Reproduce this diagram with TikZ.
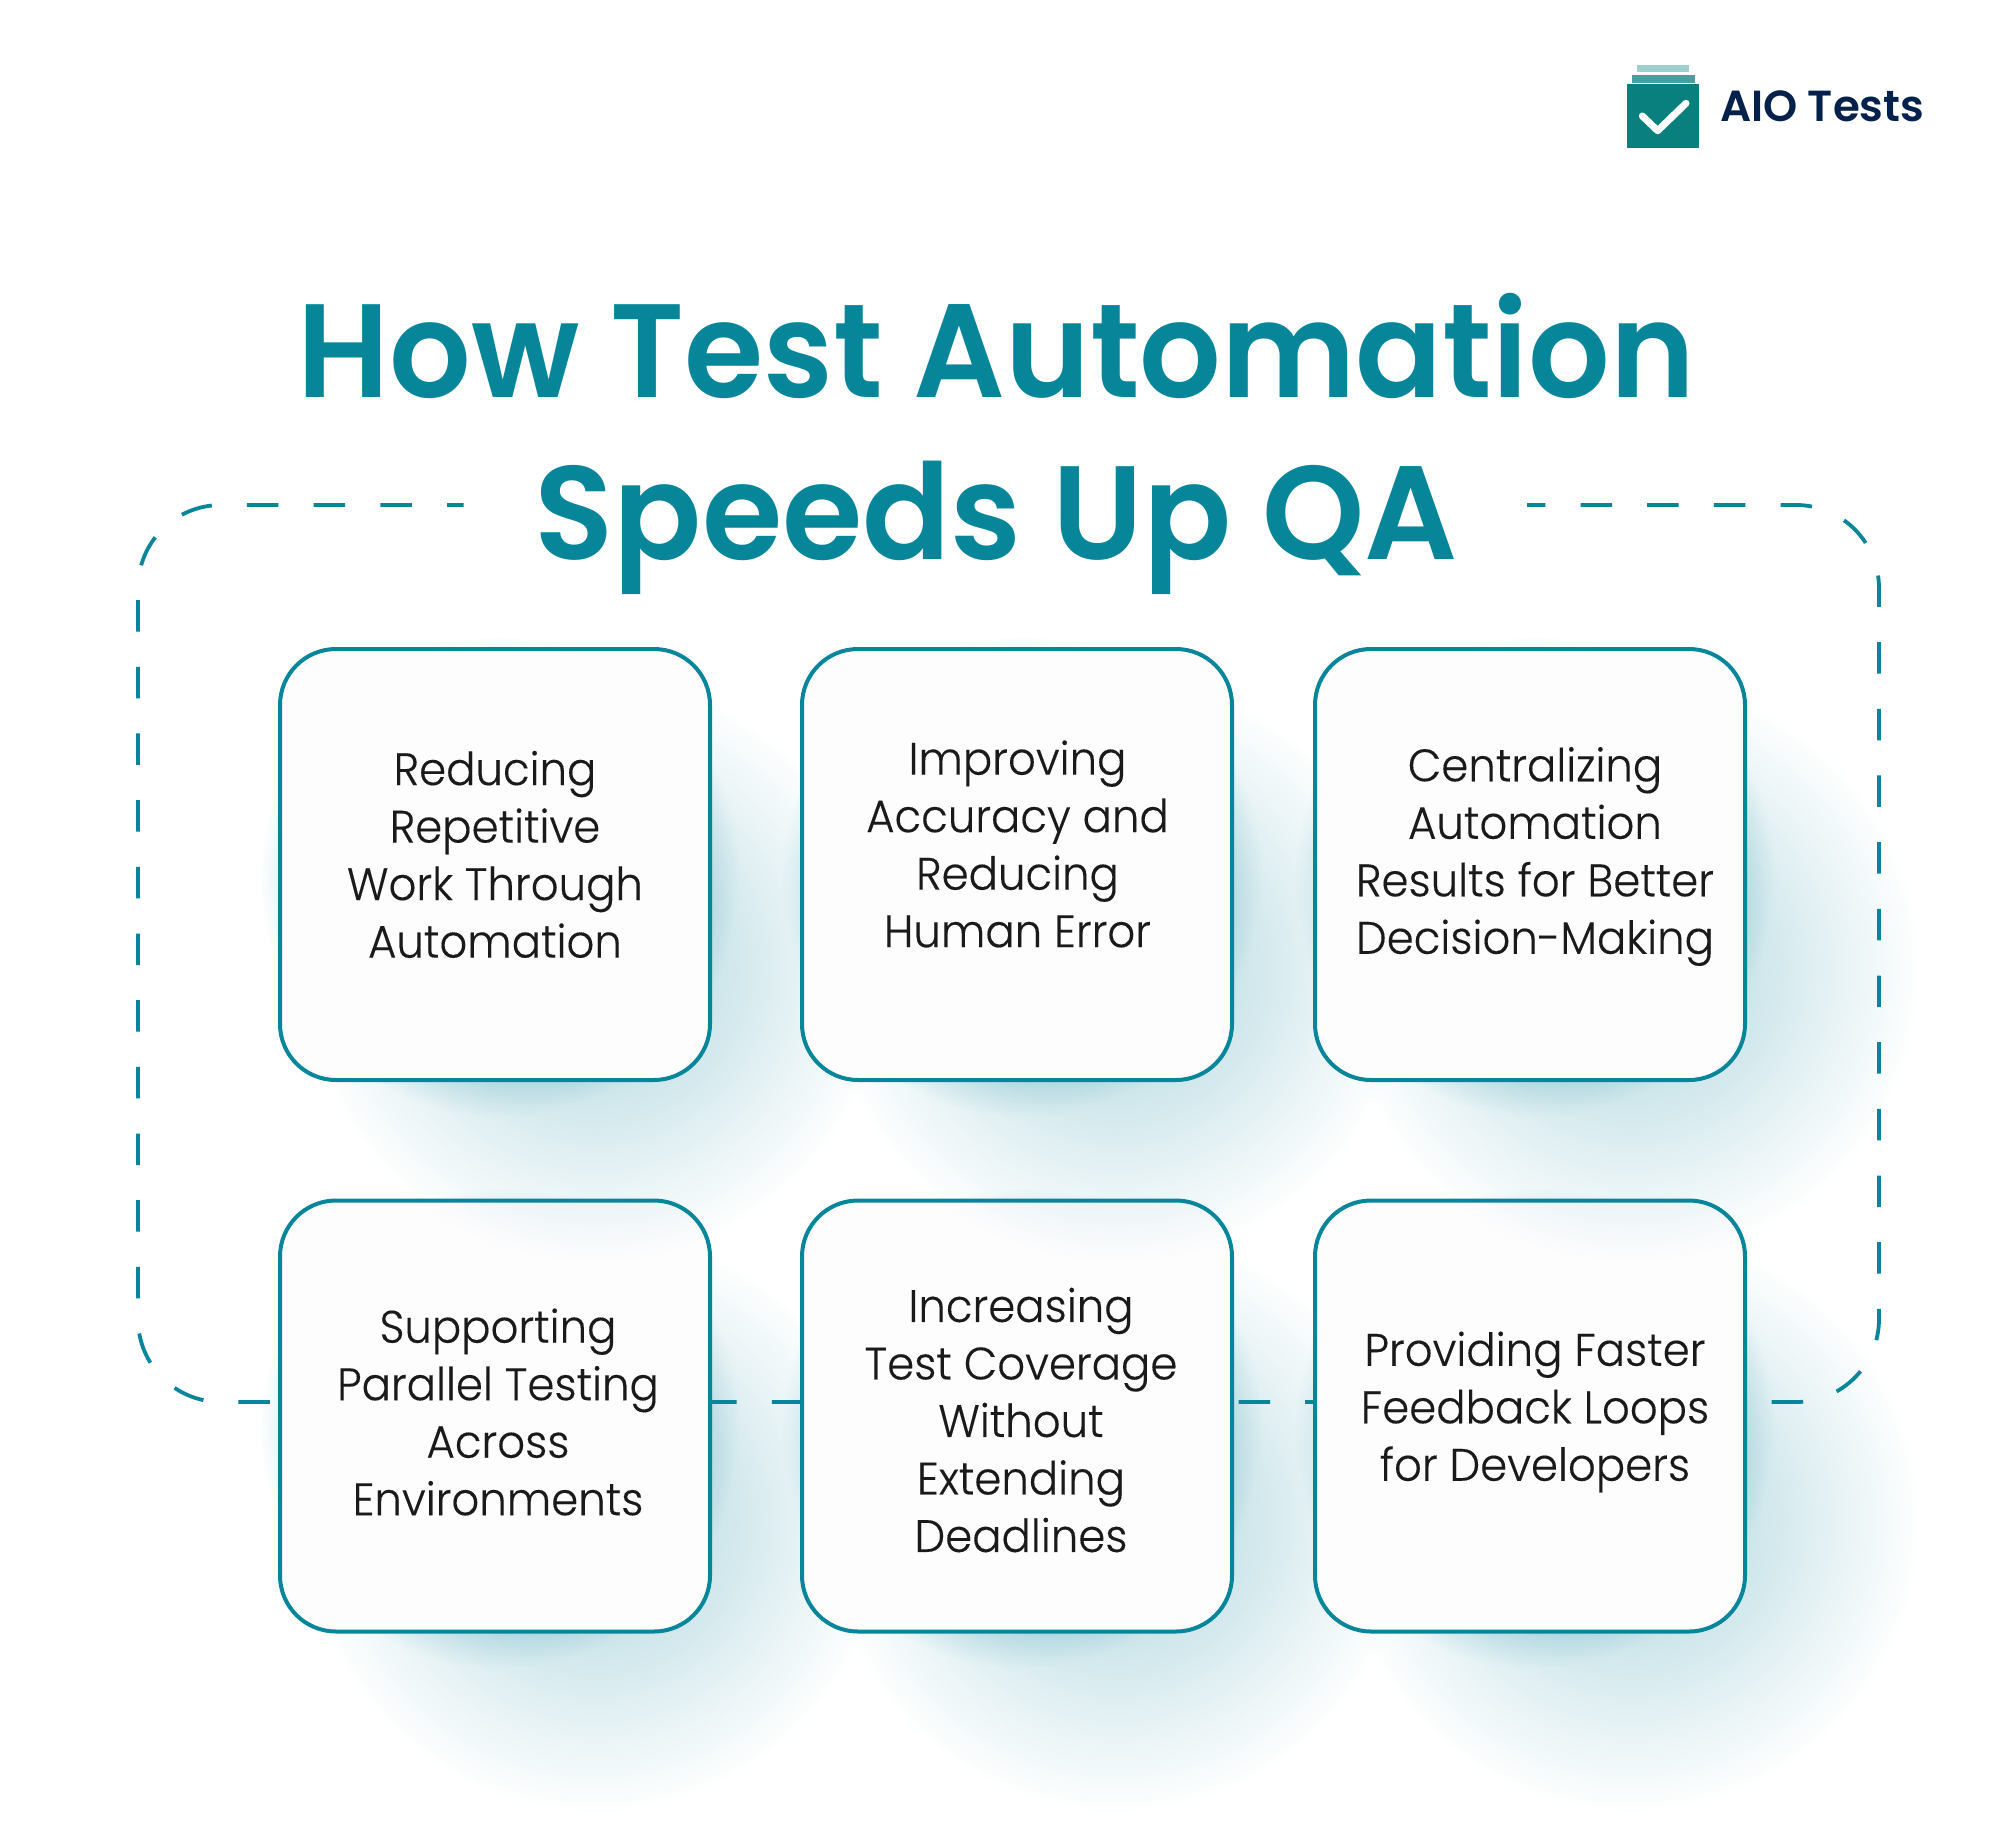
\documentclass[tikz,border=0pt]{standalone}
\usepackage{fontspec}
\usetikzlibrary{fadings}
\setmainfont{Poppins}
\newfontfamily\titlefont{Poppins SemiBold}
\newfontfamily\bodyfont[FakeBold=0.25]{Poppins Light}
\definecolor{teal1}{HTML}{07869A}
\definecolor{shadowteal}{HTML}{08819A}
\definecolor{ink}{HTML}{1A1A1A}
\definecolor{navy}{HTML}{03214A}
\definecolor{logoa}{HTML}{9DCFCF}
\definecolor{logob}{HTML}{45A09F}
\definecolor{logoc}{HTML}{0A807E}
\definecolor{cardfill}{HTML}{FDFDFE}
\tikzfading[name=shadfade, inner color=transparent!66, outer color=transparent!100]
\tikzfading[name=edgefade, inner color=transparent!0, outer color=transparent!100]
\tikzset{
  card/.style={draw=teal1,line width=4pt,fill=cardfill,rounded corners=56pt,minimum width=430pt,minimum height=431pt,inner sep=0pt,outer sep=0pt},
  bodytext/.style={font=\fontsize{45.5}{57.5}\selectfont\bodyfont,text=ink,align=center,inner sep=0pt,outer sep=0pt,transform shape,xscale=.955},
  titletext/.style={font=\fontsize{133}{161}\selectfont\titlefont,text=teal1,anchor=base,inner sep=0pt,outer sep=0pt,transform shape},
  frame/.style={draw=teal1,line width=3.8pt,rounded corners=83pt},
}
% #1,#2 = centre of the card: a wide glow to the lower right, a tight one round the card
\newcommand{\glow}[2]{%
  \fill[shadowteal,path fading=shadfade] (#1+100-292,#2+105-292) rectangle (#1+100+292,#2+105+292);
  \fill[shadowteal,path fading=edgefade] (#1+5-240,#2+12-240) rectangle (#1+5+240,#2+12+240);}
\begin{document}
\begin{tikzpicture}[x=1pt,y=-1pt]
\useasboundingbox (0,0) rectangle (1990,1824);
\clip (0,0) rectangle (1990,1824);
% lower row: glows
\glow{1530}{1416}\glow{1017}{1416}\glow{495}{1416}
% dashed frame, in two runs either side of the title
\draw[frame,dash pattern=on 31.5pt off 35.17pt] (1771.7,1402) -- (1879,1402) -- (1879,505) -- (1527,505);
\draw[frame,dash pattern=on 31.5pt off 35.17pt,dash phase=14.9pt] (463.6,505) -- (138,505) -- (138,1402) -- (1771.7,1402);
% lower row: cards
\node[card] (c4) at (495,1416) {};
\node[card] (c5) at (1017,1416) {};
\node[card] (c6) at (1530,1416) {};
% upper row
\glow{1530}{864.5}\glow{1017}{864.5}\glow{495}{864.5}
\node[card] (c1) at (495,864.5) {};
\node[card] (c2) at (1017,864.5) {};
\node[card] (c3) at (1530,864.5) {};
% card texts
\node[bodytext] (t1) at (495,854.4) {Reducing\\Repetitive\\Work Through\\Automation};
\node[bodytext] (t2) at (1017.5,844) {Improving\\Accuracy and\\Reducing\\Human Error};
\node[bodytext] (t3) at (1535,856.5) {Centralizing\\Automation\\Results for Better\\Decision-Making};
\node[bodytext] (t4) at (498,1412) {Supporting\\Parallel Testing\\Across\\Environments};
\node[bodytext] (t5) at (1021,1420) {Increasing\\Test Coverage\\Without\\Extending\\Deadlines};
\node[bodytext] (t6) at (1535,1412) {Providing Faster\\Feedback Loops\\for Developers};
% title
\node[titletext,xscale=.964] (title1) at (996.3,397.5) {How Test Automation};
\node[titletext,xscale=.978] (title2) at (996.3,559) {Speeds Up QA};
% logo
\fill[logoa] (1637.3,65) rectangle (1689.3,72.3);
\fill[logob] (1632,75) rectangle (1695,82.5);
\fill[logoc] (1627.3,84.3) rectangle (1699.3,148.3);
\draw[white,line width=7pt,line cap=round,line join=round] (1642.3,116) -- (1657.7,130.7) -- (1686,103.3);
\node[font=\fontsize{43.5}{43.5}\selectfont\titlefont,text=navy,anchor=base west,inner sep=0pt] (brand) at (1720,121) {AIO Tests};
\end{tikzpicture}
\end{document}
